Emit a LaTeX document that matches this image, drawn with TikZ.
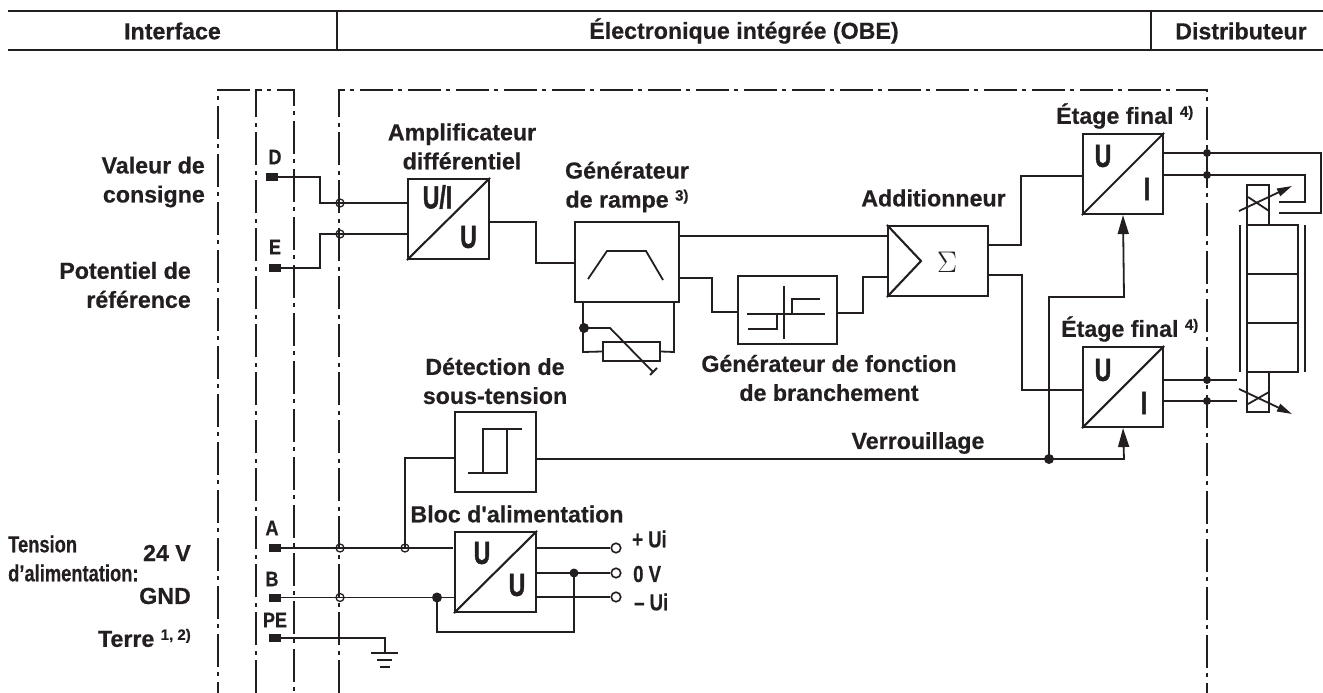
\documentclass[tikz,border=0pt]{standalone}
\usepackage{fontspec}
\setmainfont{Liberation Sans}[BoldFeatures={FakeBold=0.5}]
\newfontface\heavyf{Liberation Sans Bold}[FakeBold=1.6]
\newfontface\straightf{Liberation Sans Bold}[FakeBold=0.5]
\usetikzlibrary{arrows.meta}
\definecolor{ink}{HTML}{231F20}
\newcommand{\cnd}[2][0.86]{\scalebox{#1}[1]{#2}}
\newcommand{\fnote}[1]{\raisebox{7pt}{\fontsize{15}{15}\selectfont #1}}
\tikzset{
 x=1pt,y=-1pt,
 wire/.style={draw=ink,line width=1.8pt},
 boxs/.style={draw=ink,line width=2.1pt},
 frame/.style={draw=ink,line width=1.9pt,dash pattern=on 33pt off 5pt on 4pt off 6pt},
 lab/.style={font=\bfseries\fontsize{23.2}{29}\selectfont,text=ink,inner sep=0pt,align=center},
 pin/.style={font=\bfseries\fontsize{21}{21}\selectfont,text=ink,inner sep=0pt},
 big/.style={font=\heavyf\fontsize{32}{32}\selectfont,text=ink,inner sep=0pt},
 conn/.style={circle,draw=ink,line width=1.3pt,minimum size=8pt,inner sep=0pt},
 cdot/.style={circle,fill=ink,minimum size=10pt,inner sep=0pt},
 sdot/.style={circle,fill=ink,minimum size=8pt,inner sep=0pt},
 term/.style={circle,draw=ink,line width=1.6pt,fill=white,minimum size=9.5pt,inner sep=0pt},
 sq/.style={fill=ink,minimum width=12pt,minimum height=8pt,inner sep=0pt},
 tip/.style={-{Triangle[length=19pt,width=11pt]}},
 tipv/.style={-{Triangle[length=15pt,width=8pt]}},
}
\begin{document}
\begin{tikzpicture}
\useasboundingbox (0,0) rectangle (1323,693);
% header
\draw[ink,line width=2.2pt] (8,11) -- (1323,11);
\draw[ink,line width=2.2pt] (8,50) -- (1323,50);
\draw[ink,line width=1.8pt] (337,11) -- (337,50);
\draw[ink,line width=1.8pt] (1151,11) -- (1151,50);
\node[lab] (hI) at (172.5,31) {Interface};
\node[lab] (hO) at (744,31) {Électronique intégrée (OBE)};
\node[lab] (hD) at (1241,31) {Distributeur};
% frames
\draw[frame] (250,90) -- (218,90) -- (218,693);
\draw[frame] (256,693) -- (256,90) -- (294,90) -- (294,693);
\draw[frame] (339,693) -- (339,90) -- (1207,90) -- (1207,693);
% left labels
\node[lab,anchor=east,align=right] (l1) at (205,182) {Valeur de\\consigne};
\node[lab,anchor=east,align=right] (l2) at (191,285) {Potentiel de\\référence};
\node[lab,anchor=west,align=left] (l3) at (8,558.5) {\cnd[0.79]{Tension}\\\cnd[0.79]{d’alimentation:}};
\node[lab,anchor=east] (l4) at (191,553) {24 V};
\node[lab,anchor=east] (l5) at (191,596) {GND};
\node[lab,anchor=east] (l6) at (191,638) {Terre \fnote{1, 2)}};
% pins
\node[pin] (tD) at (275,157) {\cnd{D}};
\node[pin] (tE) at (275,247) {\cnd{E}};
\node[pin] (tA) at (272,528) {\cnd{A}};
\node[pin] (tB) at (272,579) {\cnd{B}};
\node[pin] (tP) at (275,620) {\cnd{PE}};
\node[sq] (pD) at (272,177) {};
\node[sq] (pE) at (275,268) {};
\node[sq] (pA) at (275,548) {};
\node[sq] (pB) at (275,597.5) {};
\node[sq] (pP) at (275,638) {};
% boxes
\node[boxs,minimum width=81pt,minimum height=80pt,inner sep=0pt] (amp) at (448.5,219) {};
\node[boxs,minimum width=104pt,minimum height=80pt,inner sep=0pt] (ramp) at (627,262) {};
\node[boxs,minimum width=99pt,minimum height=68pt,inner sep=0pt] (fn) at (787.5,310) {};
\node[boxs,minimum width=100pt,minimum height=70pt,inner sep=0pt] (sum) at (938,261) {};
\node[boxs,minimum width=80pt,minimum height=80pt,inner sep=0pt] (fa) at (1123,174) {};
\node[boxs,minimum width=80pt,minimum height=80pt,inner sep=0pt] (fb) at (1123,387) {};
\node[boxs,minimum width=81pt,minimum height=80pt,inner sep=0pt] (det) at (495.5,452) {};
\node[boxs,minimum width=81pt,minimum height=80pt,inner sep=0pt] (psu) at (495.5,572) {};
\node[boxs,minimum width=57pt,minimum height=19pt,inner sep=0pt] (res) at (631.5,351.5) {};
% box symbols
\draw[boxs] (amp.south west) -- (amp.north east);
\draw[boxs] (fa.south west) -- (fa.north east);
\draw[boxs] (fb.south west) -- (fb.north east);
\draw[boxs] (psu.south west) -- (psu.north east);
\node[big] (ampU) at (437.5,197) {\cnd[0.72]{U/I}};
\node[big] (ampV) at (468.5,237) {\cnd[0.72]{U}};
\node[big] (faU) at (1103,156) {\cnd[0.72]{U}};
\node[big] (faI) at (1147,189) {\cnd[0.72]{I}};
\node[big] (fbU) at (1103,370) {\cnd[0.72]{U}};
\node[big] (fbI) at (1144,403) {\cnd[0.72]{I}};
\node[big] (psU) at (482,553) {\cnd[0.72]{U}};
\node[big] (psV) at (517,585) {\cnd[0.72]{U}};
\draw[wire] (588,279) -- (607,251) -- (646,251) -- (663,280);
\draw[wire] (747,314) -- (825,314) (784,286) -- (784,339);
\draw[wire] (748,329) -- (777,329) -- (777,314) (792,314) -- (792,299) -- (820,299);
\draw[wire] (468,473) -- (507,473) -- (507,429) (483,473) -- (483,429) -- (522,429);
\draw[boxs] (sum.north west) -- (921,261) -- (sum.south west);
\node[font=\fontsize{29}{29}\selectfont,inner sep=0pt,text=ink] (sg) at (947,262) {\scalebox{1.2}{$\Sigma$}};
% box labels
\node[lab] (tamp) at (462,146.5) {Amplificateur\\différentiel};
\node[lab] (tramp) at (627,187) {Générateur\\de rampe \fnote{3)}};
\node[lab] (tadd) at (933.5,198) {Additionneur};
\node[lab] (tfn) at (829,378) {Générateur de fonction\\de branchement};
\node[lab] (tdet) at (495,381) {Détection de\\sous-tension};
\node[lab,font=\straightf\fontsize{23.2}{29}\selectfont] (tpsu) at (517,514) {Bloc d'alimentation};
\node[lab] (tver) at (918,443) {Verrouillage};
\node[lab,anchor=west] (tfa) at (1056,116) {Étage final \fnote{4)}};
\node[lab,anchor=west] (tfb) at (1061,329) {Étage final \fnote{4)}};
\node[lab,anchor=west] (tu1) at (632,539) {\cnd[0.8]{+ Ui}};
\node[lab,anchor=west] (tu2) at (633,574) {\cnd[0.8]{0 V}};
\node[lab,anchor=west] (tu3) at (634,602) {\cnd[0.8]{– Ui}};
% connector nodes
\node[conn] (c1) at (340,203) {};
\node[conn] (c2) at (340,234) {};
\node[conn] (c3) at (340,548) {};
\node[conn] (c4) at (340,597.5) {};
\node[conn] (c5) at (405,548) {};
% wires
\coordinate (ampi1) at (408,203);
\coordinate (ampi2) at (408,234);
\draw[wire] (pD.center) -- (320,177) -- (320,203) -- (c1.center) -- (ampi1);
\draw[wire] (pE.center) -- (320,268) -- (320,234) -- (c2.center) -- (ampi2);
\draw[wire] (489,222) -- (536,222) -- (536,263) -- (575,263);
\draw[wire] (679,236) -- (888,236);
\draw[wire] (679,278) -- (712,278) -- (712,312) -- (738,312);
\draw[wire] (837,313) -- (863,313) -- (863,277) -- (888,277);
\draw[wire] (988,245) -- (1021,245) -- (1021,176) -- (1083,176);
\draw[wire] (988,275) -- (1022,275) -- (1022,390) -- (1083,390);
% potentiometer
\node[cdot] (pdot) at (584,328) {};
\draw[wire] (583,302) -- (583,352) -- (res.west);
\draw[wire] (res.east) -- (674,352) -- (674,302);
\draw[wire] (pdot.center) -- (610,328) -- (653,372);
\draw[wire] (650,375) -- (657,368);
% lock
\node[cdot] (d1) at (1049,459) {};
\draw[wire] (536,459) -- (d1.center);
\draw[wire,tip] (d1.center) -- (1124,459) -- (fb.south);
\draw[wire,tip] (d1.center) -- (1049,297) -- (1124,297) -- (fa.south);
\draw[wire] (455,458) -- (405,458) -- (c5.center);
% power
\coordinate (psi) at (453,548);
\draw[wire] (pA.center) -- (c3.center) -- (c5.center) -- (psi);
\node[cdot] (d2) at (437,597.5) {};
\draw[wire] (pB.center) -- (c4.center) -- (d2.center) -- (455,597.5);
\node[cdot,minimum size=9pt] (d3) at (574,573) {};
\draw[wire] (d2.center) -- (437,632) -- (574,632) -- (d3.center);
\node[term] (o1) at (616,548) {};
\node[term] (o2) at (616,573) {};
\node[term] (o3) at (616,597) {};
\draw[wire] (537,548) -- (o1);
\draw[wire] (536,573) -- (d3.center) -- (o2);
\draw[wire] (536,597) -- (o3);
\coordinate (g) at (385,653);
\draw[wire] (pP.center) -- (385,638) -- (g);
\draw[wire] (371,653) -- (398,653) (377,660) -- (392,660) (380,667) -- (390,667);
% valve outputs
\node[sdot] (v1) at (1207,153) {};
\node[sdot] (v2) at (1207,175) {};
\node[sdot] (v3) at (1207,380) {};
\node[sdot] (v4) at (1207,401) {};
\draw[wire] (1163,153) -- (v1.center) -- (1321,153) -- (1321,213) -- (1279,213);
\draw[wire] (1163,175) -- (v2.center) -- (1305,175) -- (1305,202) -- (1279,202);
\draw[wire] (1163,380) -- (v3.center) -- (1237,380);
\draw[wire] (1163,401) -- (v4.center) -- (1237,401);
% valve
\draw[boxs] (1247,225) rectangle (1298,372);
\draw[boxs] (1247,274) -- (1298,274) (1247,323) -- (1298,323);
\draw[boxs] (1247,225) -- (1247,185) -- (1269,185) -- (1269,225);
\draw[boxs] (1247,372) -- (1247,412) -- (1269,412) -- (1269,372);
\draw[boxs] (1240,225) -- (1240,372) (1305,225) -- (1305,372);
\draw[wire] (1248,197) -- (1269,211) (1248,404) -- (1269,392);
\draw[wire,tipv] (1239,211) -- (1292,186);
\draw[wire,tipv] (1239,389) -- (1292,414);
\end{tikzpicture}
\end{document}
